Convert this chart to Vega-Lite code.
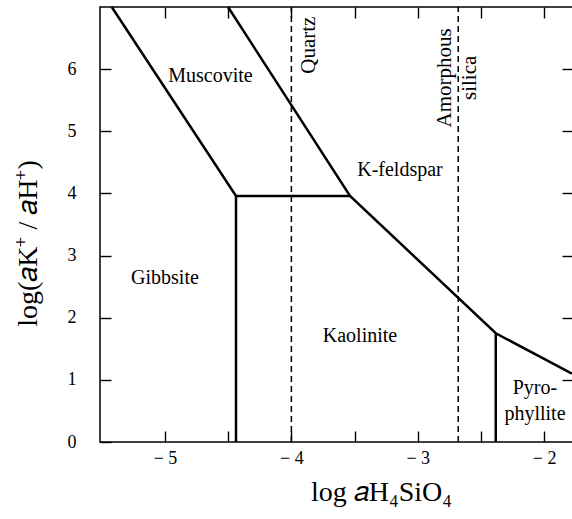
{
  "$schema": "https://vega.github.io/schema/vega-lite/v6.json",
  "width": 473,
  "height": 435,
  "autosize": {"type": "none"},
  "padding": {"left": 100, "top": 7, "right": -1, "bottom": 77},
  "background": "white",
  "config": {
    "view": {"stroke": "black", "strokeWidth": 1.5},
    "font": "Liberation Serif",
    "axis": {
      "grid": false,
      "domain": false,
      "offset": -11,
      "tickColor": "black",
      "labelColor": "black",
      "titleColor": "black",
      "labelFont": "Liberation Serif",
      "titleFont": "Liberation Serif",
      "labelFontSize": 18,
      "titleFontSize": 28,
      "titleFontWeight": "normal",
      "tickWidth": 1.4,
      "tickSize": 11,
      "labelOverlap": false
    }
  },
  "datasets": {
    "boundaries": [
      {"seg": "p1", "o": 1, "x": -5.421, "y": 7.0},
      {"seg": "p1", "o": 2, "x": -4.438, "y": 3.96},
      {"seg": "p1", "o": 3, "x": -3.536, "y": 3.96},
      {"seg": "p2", "o": 1, "x": -4.438, "y": 3.96},
      {"seg": "p2", "o": 2, "x": -4.438, "y": 0},
      {"seg": "p3", "o": 1, "x": -4.501, "y": 7.0},
      {"seg": "p3", "o": 2, "x": -3.536, "y": 3.96},
      {"seg": "p3", "o": 3, "x": -2.383, "y": 1.75},
      {"seg": "p3", "o": 4, "x": -1.78, "y": 1.10},
      {"seg": "p4", "o": 1, "x": -2.383, "y": 1.75},
      {"seg": "p4", "o": 2, "x": -2.383, "y": 0}
    ],
    "silica": [
      {"seg": "Quartz", "o": 1, "x": -4.0, "y": 0},
      {"seg": "Quartz", "o": 2, "x": -4.0, "y": 7},
      {"seg": "Amorphous silica", "o": 1, "x": -2.68, "y": 0},
      {"seg": "Amorphous silica", "o": 2, "x": -2.68, "y": 7}
    ],
    "labels": [
      {"label": "Muscovite", "x": -4.640, "y": 5.887},
      {"label": "K-feldspar", "x": -3.141, "y": 4.376},
      {"label": "Gibbsite", "x": -5.0, "y": 2.64},
      {"label": "Kaolinite", "x": -3.457, "y": 1.71},
      {"label": "Pyro-\nphyllite", "x": -2.073, "y": 0.871}
    ],
    "vlabels": [
      {"label": "Quartz", "x": -3.861, "y": 6.386},
      {"label": "Amorphous\nsilica", "x": -2.785, "y": 5.86}
    ]
  },
  "layer": [
    {
      "data": {"name": "boundaries"},
      "mark": {"type": "line", "color": "black", "strokeWidth": 2.5, "strokeJoin": "miter"},
      "encoding": {
        "x": {
          "field": "x", "type": "quantitative",
          "scale": {"domain": [-5.514, -1.772], "nice": false, "zero": false},
          "axis": {
            "orient": "bottom",
            "values": [-5, -4.5, -4, -3.5, -3, -2.5, -2],
            "labelExpr": "datum.value % 1 == 0 ? '− ' + abs(datum.value) : ''",
            "labelPadding": 7,
            "title": "log 𝑎H₄SiO₄",
            "titleX": 281,
            "titleY": 69,
            "titleBaseline": "alphabetic"
          }
        },
        "y": {
          "field": "y", "type": "quantitative",
          "scale": {"domain": [0, 7], "nice": false, "zero": false},
          "axis": {
            "orient": "left",
            "values": [0, 1, 2, 3, 4, 5, 6],
            "labelPadding": 24,
            "title": "log(𝑎K⁺ / 𝑎H⁺)",
            "titleX": -83,
            "titleY": 236,
            "titleBaseline": "middle"
          }
        },
        "detail": {"field": "seg"},
        "order": {"field": "o"}
      }
    },
    {
      "data": {"name": "silica"},
      "mark": {"type": "line", "color": "black", "strokeWidth": 1.5, "strokeDash": [6, 4]},
      "encoding": {
        "x": {
          "field": "x", "type": "quantitative",
          "axis": {
            "orient": "top",
            "values": [-5, -4.5, -4, -3.5, -3, -2.5, -2],
            "labels": false,
            "title": null
          }
        },
        "y": {
          "field": "y", "type": "quantitative",
          "axis": {
            "orient": "right",
            "values": [1, 2, 3, 4, 5, 6],
            "labels": false,
            "title": null
          }
        },
        "detail": {"field": "seg"},
        "order": {"field": "o"}
      }
    },
    {
      "data": {"name": "labels"},
      "mark": {"type": "text", "font": "Liberation Serif", "fontSize": 20, "color": "black", "align": "center", "baseline": "middle", "lineBreak": "\n", "lineHeight": 26},
      "encoding": {
        "x": {"field": "x", "type": "quantitative", "axis": null},
        "y": {"field": "y", "type": "quantitative", "axis": null},
        "text": {"field": "label"}
      }
    },
    {
      "data": {"name": "vlabels"},
      "mark": {"type": "text", "font": "Liberation Serif", "fontSize": 21, "color": "black", "align": "center", "baseline": "middle", "angle": 270, "lineBreak": "\n", "lineHeight": 25},
      "encoding": {
        "x": {"field": "x", "type": "quantitative", "axis": null},
        "y": {"field": "y", "type": "quantitative", "axis": null},
        "text": {"field": "label"}
      }
    }
  ],
  "resolve": {"axis": {"x": "independent", "y": "independent"}}
}
